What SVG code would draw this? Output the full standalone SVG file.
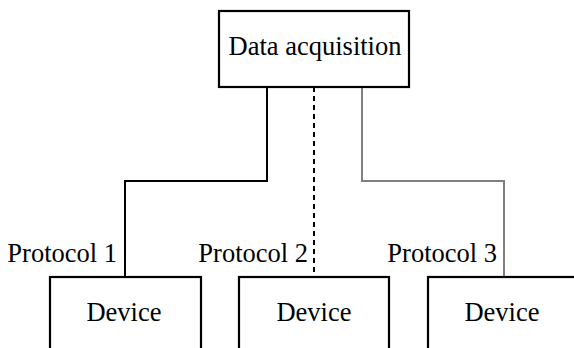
<svg xmlns="http://www.w3.org/2000/svg" width="574" height="348" viewBox="0 0 574 348">
  <style>
    .box { fill: #ffffff; stroke: #000000; stroke-width: 2.2; }
    .lbl { font-family: "Liberation Serif", "Times New Roman", serif; font-size: 26.5px; fill: #000000; }
    .mid { text-anchor: middle; }
    .end { text-anchor: end; }
    .wire { fill: none; stroke-width: 2; }
  </style>
  <rect width="574" height="348" fill="#ffffff"/>

  <!-- connectors from the acquisition unit to each device -->
  <g id="connectors">
    <path class="wire" d="M267 87 V181 H125 V277" stroke="#000000"/>
    <path class="wire" d="M314 87 V277" stroke="#000000" stroke-dasharray="5 4"/>
    <path class="wire" d="M362 87 V181 H504 V277" stroke="#808080"/>
    <text class="lbl end" x="117" y="262">Protocol 1</text>
    <text class="lbl end" x="308" y="262">Protocol 2</text>
    <text class="lbl end" x="497" y="262">Protocol 3</text>
  </g>

  <g id="acquisition">
    <rect class="box" x="219" y="11" width="190" height="76"/>
    <text class="lbl mid" x="315" y="55">Data acquisition</text>
  </g>

  <g id="device1">
    <rect class="box" x="50" y="277" width="151" height="90"/>
    <text class="lbl mid" x="124" y="321">Device</text>
  </g>

  <g id="device2">
    <rect class="box" x="239" y="277" width="150" height="90"/>
    <text class="lbl mid" x="314" y="321">Device</text>
  </g>

  <g id="device3">
    <rect class="box" x="428" y="277" width="151" height="90"/>
    <text class="lbl mid" x="502" y="321">Device</text>
  </g>
</svg>
